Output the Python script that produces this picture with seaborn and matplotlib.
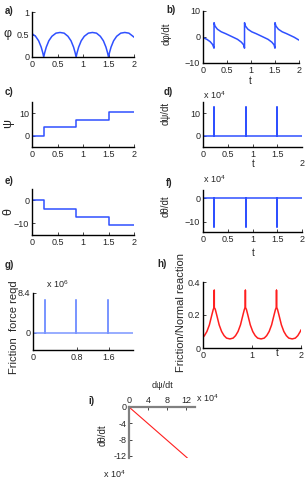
import numpy as np
import matplotlib
matplotlib.use('Agg')
import matplotlib.pyplot as plt
import seaborn as sns

sns.set_theme(style='ticks')
plt.rcParams['font.family'] = ['Liberation Sans', 'DejaVu Sans']
plt.rcParams['mathtext.fontset'] = 'custom'
plt.rcParams['mathtext.rm'] = 'Liberation Sans'
plt.rcParams['mathtext.it'] = 'Liberation Sans'

BLUE = '#2f50ff'
LBLUE = '#7b96ff'
RED = '#ff1f1f'
FS = 6.5

# a) phi vs t
t_phi = [0, 0.07, 0.13, 0.18, 0.21, 0.23, 0.25, 0.28, 0.33, 0.39, 0.47, 0.55, 0.63,
         0.705, 0.765, 0.815, 0.845, 0.865, 0.885, 0.915, 0.965, 1.025, 1.105, 1.185,
         1.265, 1.34, 1.40, 1.45, 1.48, 1.50, 1.52, 1.55, 1.60, 1.66, 1.74, 1.82,
         1.90, 1.98, 2.0]
phi = [0.52, 0.46, 0.36, 0.22, 0.10, 0.0, 0.10, 0.22, 0.36, 0.46, 0.53, 0.545, 0.53,
       0.46, 0.36, 0.22, 0.10, 0.0, 0.10, 0.22, 0.36, 0.46, 0.53, 0.545,
       0.53, 0.46, 0.36, 0.22, 0.10, 0.0, 0.10, 0.22, 0.36, 0.46, 0.53, 0.545,
       0.53, 0.46, 0.44]

# b) dphi/dt vs t
t_dphi = [0, 0.08, 0.15, 0.2, 0.23,
          0.23, 0.25, 0.30, 0.38, 0.47, 0.55, 0.63, 0.72, 0.80, 0.845, 0.865,
          0.865, 0.885, 0.935, 1.015, 1.105, 1.185, 1.265, 1.355, 1.435, 1.48, 1.50,
          1.50, 1.52, 1.57, 1.65, 1.74, 1.82, 1.90, 2.0]
dphi = [-0.2, -0.9, -1.8, -2.9, -4.3,
        5.5, 4.2, 3.0, 2.0, 1.3, 0.6, -0.1, -0.9, -2.0, -3.0, -4.3,
        5.5, 4.2, 3.0, 2.0, 1.3, 0.6, -0.1, -0.9, -2.0, -3.0, -4.3,
        5.5, 4.2, 3.0, 2.0, 1.3, 0.6, -0.1, -1.2]

# c) psi, e) theta: step levels
t_steps = [0, 0.23, 0.865, 1.5, 2.0]
psi_levels = [0, 3.7, 7.2, 10.7, 10.7]
theta_levels = [0, -3.6, -7.2, -10.8, -10.8]

# d) dpsi/dt, f) dtheta/dt, g) friction force: spikes (x 10^4, x 10^6)
t_spikes = [0.23, 0.865, 1.5]
dpsi_spike = 12.6
dtheta_spike = -12.4
force_spike = 6.9

# h) friction / normal reaction
t_mu = [0, 0.03, 0.08, 0.13, 0.18, 0.21, 0.23, 0.23, 0.23, 0.25, 0.28, 0.33, 0.38,
        0.43, 0.48, 0.55, 0.615, 0.665, 0.715, 0.765, 0.815, 0.845, 0.865, 0.865,
        0.865, 0.885, 0.915, 0.965, 1.015, 1.065, 1.115, 1.185, 1.25, 1.30, 1.35,
        1.40, 1.45, 1.48, 1.50, 1.50, 1.50, 1.52, 1.55, 1.60, 1.65, 1.70, 1.75,
        1.82, 1.885, 1.935, 1.985, 2.0]
mu = [0.065, 0.075, 0.10, 0.14, 0.20, 0.235, 0.245, 0.35, 0.245, 0.235, 0.20, 0.14, 0.10,
      0.075, 0.06, 0.055, 0.06, 0.075, 0.10, 0.14, 0.20, 0.235, 0.245, 0.35,
      0.245, 0.235, 0.20, 0.14, 0.10, 0.075, 0.06, 0.055, 0.06, 0.075, 0.10,
      0.14, 0.20, 0.235, 0.245, 0.35, 0.245, 0.235, 0.20, 0.14, 0.10, 0.075, 0.06,
      0.055, 0.06, 0.075, 0.10, 0.11]

# i) dtheta/dt vs dpsi/dt (x 10^4)
i_dpsi = [0, 12.3]
i_dtheta = [0, -12.5]

W, H = 308, 480
fig = plt.figure(figsize=(W / 100, H / 100), dpi=100)


def box(x0, x1, y0, y1):
    return [x0 / W, 1 - y1 / H, (x1 - x0) / W, (y1 - y0) / H]


def style(ax):
    sns.despine(ax=ax)
    for s in ('left', 'bottom'):
        ax.spines[s].set_linewidth(1.0)
        ax.spines[s].set_color('black')
    ax.tick_params(labelsize=FS, length=2, width=0.6, direction='in', pad=2)
    ax.set_xlabel('')
    ax.set_ylabel('')


def spike_line(height):
    xs, ys = [0], [0]
    for t in t_spikes:
        xs += [t, t, t]
        ys += [0, height, 0]
    xs.append(2.0)
    ys.append(0)
    return xs, ys


def line(ax, x, y, color, lw=1.1):
    sns.lineplot(x=x, y=y, ax=ax, color=color, lw=lw, estimator=None, sort=False)


def plabel(x, y, s):
    fig.text(x / W, 1 - y / H, s, fontsize=7, fontweight='bold', ha='left', va='center')


def ftext(x, y, s, rot=0, fs=FS, ha='center'):
    fig.text(x / W, 1 - y / H, s, fontsize=fs, rotation=rot, ha=ha, va='center')


# a
ax = fig.add_axes(box(32, 134, 12, 57))
line(ax, t_phi, phi, BLUE)
ax.set_xlim(0, 2)
ax.set_ylim(0, 1)
ax.set_xticks([0, 0.5, 1, 1.5, 2])
ax.set_xticklabels(['0', '0.5', '1', '1.5', '2'])
ax.set_yticks([0, 0.5, 1])
ax.set_yticklabels(['0', '0.5', '1'])
style(ax)
plabel(5, 11, 'a)')
ftext(8, 34, 'φ', fs=9)

# b
ax = fig.add_axes(box(203, 299, 11, 63))
line(ax, t_dphi, dphi, BLUE)
ax.set_xlim(0, 2)
ax.set_ylim(-10, 10)
ax.set_xticks([0, 0.5, 1, 1.5, 2])
ax.set_xticklabels(['0', '0.5', '1', '1.5', '2'])
ax.set_yticks([-10, 0, 10])
style(ax)
plabel(166, 10, 'b)')
ftext(167, 34, 'dφ/dt', rot=90, fs=7)
ftext(250, 81, 't', fs=7)

# c
ax = fig.add_axes(box(32, 134, 102, 147))
line(ax, t_steps, psi_levels, BLUE)
ax.lines[-1].set_drawstyle('steps-post')
ax.set_xlim(0, 2)
ax.set_ylim(-5, 15)
ax.set_xticks([0, 0.5, 1, 1.5, 2])
ax.set_xticklabels(['0', '0.5', '1', '1.5', '2'])
ax.set_yticks([0, 10])
style(ax)
plabel(5, 92, 'c)')
ftext(8, 124, 'ψ', rot=90, fs=9)

# d
ax = fig.add_axes(box(203, 302, 102, 147))
xs, ys = spike_line(dpsi_spike)
line(ax, xs, ys, BLUE)
ax.set_xlim(0, 2)
ax.set_ylim(-5, 15)
ax.set_xticks([0, 0.5, 1, 1.5])
ax.set_xticklabels(['0', '0.5', '1', '1.5'])
ax.set_yticks([0, 10])
style(ax)
plabel(164, 92, 'd)')
ftext(166, 113, 'dψ/dt', rot=90, fs=7)
ftext(203, 95, r'x 10$^{4}$', ha='left')
ftext(253, 164, 't', fs=7)
ftext(302, 164, '2')

# e
ax = fig.add_axes(box(32, 134, 189, 235))
line(ax, t_steps, theta_levels, BLUE)
ax.lines[-1].set_drawstyle('steps-post')
ax.set_xlim(0, 2)
ax.set_ylim(-15, 5)
ax.set_xticks([0, 0.5, 1, 1.5, 2])
ax.set_xticklabels(['0', '0.5', '1', '1.5', '2'])
ax.set_yticks([-10, 0])
style(ax)
plabel(5, 181, 'e)')
ftext(8, 212, 'θ', rot=90, fs=9)

# f
ax = fig.add_axes(box(203, 302, 190, 232))
xs, ys = spike_line(dtheta_spike)
line(ax, xs, ys, BLUE)
ax.set_xlim(0, 2)
ax.set_ylim(-14.5, 3.5)
ax.set_xticks([0, 0.5, 1, 1.5, 2])
ax.set_xticklabels(['0', '0.5', '1', '1.5', '2'])
ax.set_yticks([-10, 0])
style(ax)
plabel(166, 183, 'f)')
ftext(166, 206, 'dθ/dt', rot=90, fs=7)
ftext(203, 179, r'x 10$^{4}$', ha='left')
ftext(253, 253, 't', fs=7)

# g
ax = fig.add_axes(box(33, 133, 293, 350))
xs, ys = spike_line(force_spike)
line(ax, xs, ys, LBLUE)
ax.set_xlim(0, 2)
ax.set_ylim(-3.6, 8.4)
ax.set_xticks([0, 0.87, 1.52])
ax.set_xticklabels(['0', '0.8', '1.6'])
ax.set_yticks([0, 8.4])
ax.set_yticklabels(['0', '8.4'])
style(ax)
plabel(5, 265, 'g)')
ftext(14, 327, 'Friction  force reqd', rot=90, fs=8)
ftext(46, 284, r'x 10$^{6}$', ha='left')

# h
ax = fig.add_axes(box(203, 301, 282, 348))
line(ax, t_mu, mu, RED)
ax.set_xlim(0, 2)
ax.set_ylim(0, 0.4)
ax.set_xticks([0, 1, 2])
ax.set_xticklabels(['0', '1', '2'])
ax.set_yticks([0, 0.2, 0.4])
ax.set_yticklabels(['0', '0.2', '0.4'])
style(ax)
plabel(157, 264, 'h)')
ftext(181, 313, 'Friction/Normal reaction', rot=90, fs=8)
ftext(277, 353, 't', fs=7)

# i
ax = fig.add_axes(box(129, 195, 407, 458))
line(ax, i_dpsi, i_dtheta, RED, lw=0.8)
ax.set_xlim(0, 13.9)
ax.set_ylim(-12.5, 0)
sns.despine(ax=ax, top=False, bottom=True, right=True)
for s in ('left', 'top'):
    ax.spines[s].set_color('#808080')
    ax.spines[s].set_linewidth(1.6)
ax.xaxis.tick_top()
ax.set_xticks([0, 4, 8, 12])
ax.set_xticklabels(['0', '4', '8', '12'])
ax.set_yticks([0, -4, -8, -12])
ax.set_yticklabels(['0', '-4', '-8', '-12'])
ax.tick_params(labelsize=FS, length=2, width=0.6, direction='in', pad=1.5)
ax.set_xlabel('')
ax.set_ylabel('')
plabel(88, 401, 'i)')
ftext(163, 386, 'dψ/dt')
ftext(196, 398, r'x 10$^{4}$', ha='left')
ftext(103, 435, 'dθ/dt', rot=90, fs=7)
ftext(103, 474, r'x 10$^{4}$', ha='left')

fig.savefig('out.png', dpi=100)
